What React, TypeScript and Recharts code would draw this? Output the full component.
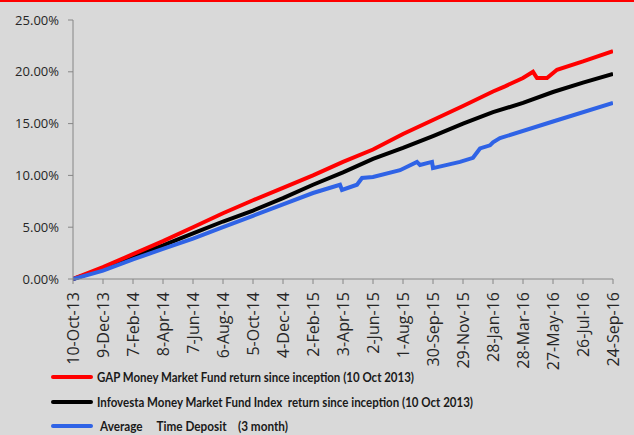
import React from "react";
import { LineChart, Line, XAxis, YAxis, Legend } from "recharts";

// Tick labels on the date axis (every 60 days from 10-Oct-13)
const dateLabels = [
  "10-Oct-13", "9-Dec-13", "7-Feb-14", "8-Apr-14", "7-Jun-14", "6-Aug-14",
  "5-Oct-14", "4-Dec-14", "2-Feb-15", "3-Apr-15", "2-Jun-15", "1-Aug-15",
  "30-Sep-15", "29-Nov-15", "28-Jan-16", "28-Mar-16", "27-May-16", "26-Jul-16",
  "24-Sep-16",
];
const tickDays = dateLabels.map((_, i) => i * 60);
const yTicks = [0, 5, 10, 15, 20, 25];

// GAP Money Market Fund (days since 10-Oct-13, % return)
const gapDays = [0, 60, 120, 180, 240, 300, 360, 420, 480, 540, 600, 660, 720, 780, 840, 864, 900, 920, 928, 948, 968, 1020, 1080];
const gapValues = [0, 1.15, 2.4, 3.65, 5.0, 6.35, 7.6, 8.8, 10.0, 11.3, 12.5, 14.0, 15.35, 16.7, 18.1, 18.6, 19.4, 20.0, 19.4, 19.4, 20.2, 21.0, 22.0];

// Infovesta Money Market Fund Index
const infoDays = [0, 60, 120, 180, 240, 300, 360, 420, 480, 540, 600, 660, 720, 780, 840, 900, 960, 1020, 1080];
const infoValues = [0, 1.0, 2.2, 3.25, 4.4, 5.55, 6.6, 7.8, 9.1, 10.3, 11.6, 12.65, 13.8, 15.0, 16.1, 17.0, 18.05, 18.95, 19.8];

// Average Time Deposit (3 month)
const depDays = [0, 60, 120, 180, 240, 300, 360, 420, 480, 534, 538, 568, 578, 600, 654, 688, 694, 718, 720, 774, 800, 814, 834, 840, 854, 960, 1080];
const depValues = [0, 0.8, 1.9, 2.9, 3.9, 5.0, 6.1, 7.2, 8.3, 9.1, 8.6, 9.1, 9.75, 9.85, 10.5, 11.3, 11.0, 11.3, 10.7, 11.3, 11.7, 12.6, 12.9, 13.2, 13.6, 15.2, 17.0];

const seriesNames = [
  "GAP Money Market Fund return since inception (10 Oct 2013)",
  "Infovesta Money Market Fund Index  return since inception (10 Oct 2013)",
  "Average     Time Deposit    (3 month)",
];
const seriesColors = ["#FF0000", "#000000", "#2F63E6"];

const toData = (days: number[], values: number[]) =>
  days.map((d, i) => ({ day: d, value: values[i] }));

const gapData = toData(gapDays, gapValues);
const infoData = toData(infoDays, infoValues);
const depData = toData(depDays, depValues);

const FONT = "'Open Sans', 'DejaVu Sans', sans-serif";

const XTick = (props: any) => {
  const { x, y, payload } = props;
  const idx = Math.round(payload.value / 60);
  return (
    <g transform={`translate(${x},${y})`}>
      <text
        x={0}
        y={0}
        dy="0.36em"
        textAnchor="end"
        transform="rotate(-90)"
        fontSize={16}
        fontFamily={FONT}
        fill="#262626"
      >
        {dateLabels[idx]}
      </text>
    </g>
  );
};

const LegendContent = () => (
  <svg width={634} height={75} style={{ display: "block" }}>
    {[17, 42, 66].map((cy, i) => (
      <line
        key={"l" + i}
        x1={53}
        x2={91}
        y1={cy}
        y2={cy}
        stroke={seriesColors[i]}
        strokeWidth={4}
        strokeLinecap="round"
      />
    ))}
    <text x={97} y={21.5} fontSize={13} fontWeight={700} fontFamily="Lato, sans-serif" fill="#1a1a1a" textLength={317} lengthAdjust="spacingAndGlyphs">
      {seriesNames[0]}
    </text>
    <text x={97} y={46.5} fontSize={13} fontWeight={700} fontFamily="Lato, sans-serif" fill="#1a1a1a" textLength={376} lengthAdjust="spacingAndGlyphs" style={{ whiteSpace: "pre" }}>
      {seriesNames[1]}
    </text>
    <text x={100} y={70.5} fontSize={13} fontWeight={700} fontFamily="Lato, sans-serif" fill="#1a1a1a" textLength={188} lengthAdjust="spacingAndGlyphs" style={{ whiteSpace: "pre" }}>
      {seriesNames[2]}
    </text>
  </svg>
);

export default function App() {
  return (
    <div
      style={{
        position: "absolute",
        left: 0,
        top: 0,
        width: 634,
        height: 435,
        background: "#D9D9D9",
        overflow: "hidden",
      }}
    >
      <div style={{ position: "absolute", left: 0, top: 0, width: 634, height: 2, background: "#FF0000" }} />
      <LineChart
        width={634}
        height={435}
        margin={{ top: 20, right: 21, bottom: 0, left: 0 }}
      >
        <XAxis
          dataKey="day"
          type="number"
          domain={[0, 1080]}
          ticks={tickDays}
          interval={0}
          height={156}
          tickSize={5}
          tickMargin={8}
          stroke="#868686"
          tick={<XTick />}
          allowDataOverflow
        />
        <YAxis
          type="number"
          domain={[0, 25]}
          ticks={yTicks}
          width={73}
          tickSize={5}
          tickMargin={9}
          stroke="#868686"
          tick={{ fill: "#262626", fontSize: 13, fontFamily: FONT }}
          tickFormatter={(v: number) => v.toFixed(2) + "%"}
        />
        <Legend
          layout="horizontal"
          verticalAlign="middle"
          align="center"
          wrapperStyle={{ position: "absolute", left: 0, top: 360, width: 634, height: 75 }}
          content={<LegendContent />}
        />
        <Line data={infoData} dataKey="value" name={seriesNames[1]} type="linear" stroke={seriesColors[1]} strokeWidth={4} dot={false} isAnimationActive={false} />
        <Line data={gapData} dataKey="value" name={seriesNames[0]} type="linear" stroke={seriesColors[0]} strokeWidth={4} dot={false} isAnimationActive={false} />
        <Line data={depData} dataKey="value" name={seriesNames[2]} type="linear" stroke={seriesColors[2]} strokeWidth={4} dot={false} isAnimationActive={false} />
      </LineChart>
    </div>
  );
}
